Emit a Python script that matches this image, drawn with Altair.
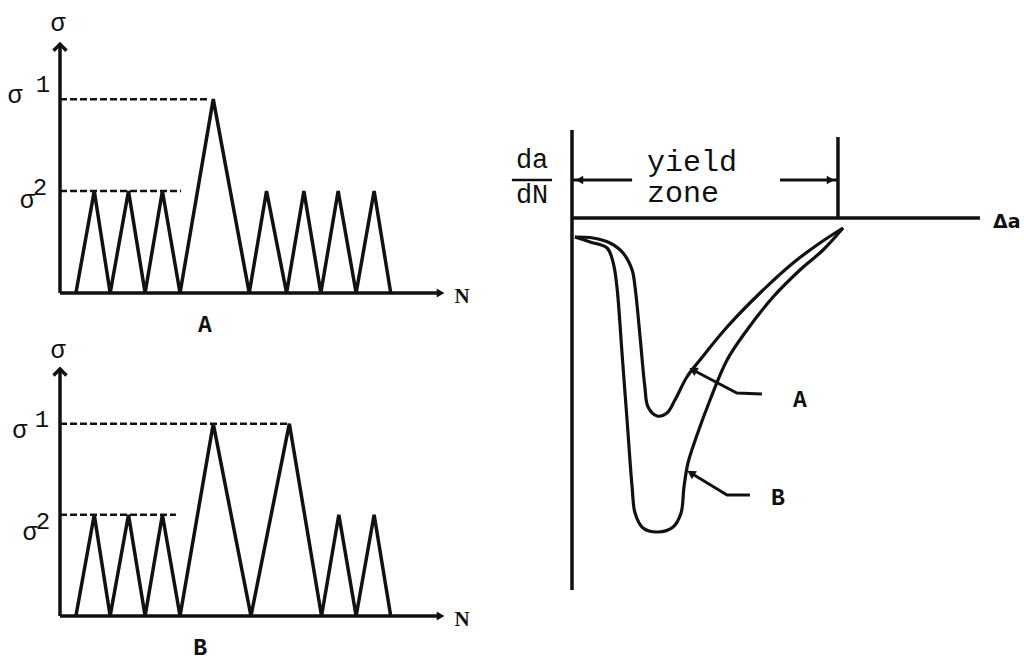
import altair as alt
import pandas as pd

INK = "#111111"
MONO = "Liberation Mono"
SERIF = "Liberation Serif"

# ---------------- load sequences (stress in units of sigma2) ----------------
SIGMA1 = 1.9
SIGMA2 = 1.0

seq_a_n = [0.46, 0.99, 1.45, 1.98, 2.46, 2.96, 3.47, 4.43, 5.47, 5.97, 6.55, 7.05, 7.54, 8.04, 8.56, 9.08, 9.56]
seq_a_s = [0, 1, 0, 1, 0, 1, 0, 1.9, 0, 1, 0, 1, 0, 1, 0, 1, 0]

seq_b_n = [0.46, 0.99, 1.45, 1.98, 2.46, 2.96, 3.47, 4.43, 5.52, 6.63, 7.56, 8.06, 8.56, 9.08, 9.56]
seq_b_s = [0, 1, 0, 1, 0, 1, 0, 1.9, 0, 1.9, 0, 1, 0, 1, 0]

# where the dashed sigma1 / sigma2 guides stop
guide_a_end = [4.25, 3.5]
guide_b_end = [6.63, 3.35]

# ---------------- crack growth rate curves (da/dN relative, vs delta a / yield zone) ----------------
curve_a_x = [0.011, 0.079, 0.143, 0.192, 0.226, 0.237, 0.256, 0.274, 0.286, 0.320, 0.357,
             0.387, 0.432, 0.481, 0.583, 0.707, 0.831, 0.932, 1.019]
curve_a_y = [-0.19, -0.20, -0.25, -0.35, -0.52, -0.69, -1.19, -1.69, -1.89, -1.98, -1.95,
             -1.82, -1.59, -1.42, -1.09, -0.75, -0.45, -0.25, -0.10]

curve_b_x = [0.011, 0.068, 0.132, 0.155, 0.169, 0.188, 0.207, 0.226, 0.237, 0.267, 0.323, 0.380,
             0.410, 0.421, 0.436, 0.470, 0.519, 0.583, 0.658, 0.756, 0.857, 0.944, 1.019]
curve_b_y = [-0.19, -0.24, -0.30, -0.45, -0.69, -1.35, -2.02, -2.69, -2.95, -3.10, -3.14, -3.09,
             -2.95, -2.69, -2.45, -2.17, -1.82, -1.42, -1.12, -0.79, -0.52, -0.32, -0.10]

# leader lines from the curve labels to the curves
leader_a_x = [0.455, 0.620, 0.714]
leader_a_y = [-1.52, -1.75, -1.76]
leader_b_x = [0.447, 0.583, 0.669]
leader_b_y = [-2.55, -2.77, -2.77]

YIELD_ZONE = 1.0


def sc(domain, rng):
    return alt.Scale(domain=domain, range=rng, nice=False, zero=False)


# scales of the three diagrams
X_LOAD = sc([0, 11.1], [60, 444])
Y_LOAD_A = sc([0, 2.46], [293, 42])
Y_LOAD_B = sc([0, 2.46], [616, 367])
X_RATE = sc([0, 1.534], [572, 980])
Y_RATE = sc([-3.72, 0.88], [590, 130])

CHEVRON = "M-1,0.7L0,-0.3L1,0.7"


def enc(xs, ys, xf="x", yf="y"):
    return dict(x=alt.X(f"{xf}:Q", scale=xs, axis=None), y=alt.Y(f"{yf}:Q", scale=ys, axis=None))


def text_layer(df, xs, ys, size, font=MONO, weight="normal", align="center"):
    return alt.Chart(df).mark_text(
        font=font, fontSize=size, fontWeight=weight, color=INK, align=align, baseline="middle"
    ).encode(**enc(xs, ys), text="t:N")


def load_panel(ns, ss, guide_end, ys, lbl):
    seq = pd.DataFrame({"x": ns, "y": ss, "i": range(len(ns))})
    layers = []
    # axes
    layers.append(alt.Chart(pd.DataFrame({"x": [0], "x2": [10.95], "y": [0]}))
                  .mark_rule(color=INK, strokeWidth=3.5)
                  .encode(**enc(X_LOAD, ys), x2="x2:Q"))
    layers.append(alt.Chart(pd.DataFrame({"x": [0], "y": [0], "y2": [2.44]}))
                  .mark_rule(color=INK, strokeWidth=3.5)
                  .encode(**enc(X_LOAD, ys), y2="y2:Q"))
    layers.append(alt.Chart(pd.DataFrame({"x": [11.0], "y": [0]}))
                  .mark_point(shape="triangle-right", filled=True, size=80, color=INK, opacity=1)
                  .encode(**enc(X_LOAD, ys)))
    layers.append(alt.Chart(pd.DataFrame({"x": [0], "y": [2.42]}))
                  .mark_point(shape=CHEVRON, filled=False, size=170, strokeWidth=3.5, color=INK, opacity=1)
                  .encode(**enc(X_LOAD, ys)))
    # dashed stress levels
    layers.append(alt.Chart(pd.DataFrame({"x": [0, 0], "x2": guide_end, "y": [SIGMA1, SIGMA2]}))
                  .mark_rule(color=INK, strokeWidth=2.5, strokeDash=[7, 3])
                  .encode(**enc(X_LOAD, ys), x2="x2:Q"))
    # load sequence
    layers.append(alt.Chart(seq).mark_line(color=INK, strokeWidth=3.5, strokeJoin="miter")
                  .encode(**enc(X_LOAD, ys), order="i:Q"))
    # labels
    layers.append(text_layer(pd.DataFrame(lbl["sigma"]), X_LOAD, ys, 25))
    layers.append(text_layer(pd.DataFrame(lbl["digits"]), X_LOAD, ys, 24))
    layers.append(text_layer(pd.DataFrame(lbl["name"]), X_LOAD, ys, 23, weight="bold"))
    layers.append(text_layer(pd.DataFrame({"x": [11.62], "y": [-0.04], "t": ["N"]}),
                             X_LOAD, ys, 21, font=SERIF, weight="bold"))
    return layers


labels_a = {
    "sigma": {"x": [-0.06, -1.30, -0.95], "y": [2.65, 1.94, 0.91], "t": ["σ", "σ", "σ"]},
    "digits": {"x": [-0.49, -0.58], "y": [2.04, 1.03], "t": ["1", "2"]},
    "name": {"x": [4.19], "y": [-0.31], "t": ["A"]},
}
labels_b = {
    "sigma": {"x": [-0.06, -1.16, -0.87], "y": [2.63, 1.84, 0.83], "t": ["σ", "σ", "σ"]},
    "digits": {"x": [-0.52, -0.49], "y": [1.94, 0.93], "t": ["1", "2"]},
    "name": {"x": [4.05], "y": [-0.32], "t": ["B"]},
}

layers = []
layers += load_panel(seq_a_n, seq_a_s, guide_a_end, Y_LOAD_A, labels_a)
layers += load_panel(seq_b_n, seq_b_s, guide_b_end, Y_LOAD_B, labels_b)

# ---------------- crack growth rate diagram ----------------
layers.append(alt.Chart(pd.DataFrame({"x": [0], "y": [-3.72], "y2": [0.88]}))
              .mark_rule(color=INK, strokeWidth=3.5).encode(**enc(X_RATE, Y_RATE), y2="y2:Q"))
layers.append(alt.Chart(pd.DataFrame({"x": [0], "x2": [1.534], "y": [0]}))
              .mark_rule(color=INK, strokeWidth=3.5).encode(**enc(X_RATE, Y_RATE), x2="x2:Q"))
layers.append(alt.Chart(pd.DataFrame({"x": [YIELD_ZONE], "y": [0], "y2": [0.81]}))
              .mark_rule(color=INK, strokeWidth=3.5).encode(**enc(X_RATE, Y_RATE), y2="y2:Q"))
# yield zone dimension arrows
layers.append(alt.Chart(pd.DataFrame({"x": [0.0, 0.782], "x2": [0.226, YIELD_ZONE], "y": [0.38, 0.38]}))
              .mark_rule(color=INK, strokeWidth=3).encode(**enc(X_RATE, Y_RATE), x2="x2:Q"))
layers.append(alt.Chart(pd.DataFrame({"x": [0.028], "y": [0.38]}))
              .mark_point(shape="triangle-left", filled=True, size=75, color=INK, opacity=1)
              .encode(**enc(X_RATE, Y_RATE)))
layers.append(alt.Chart(pd.DataFrame({"x": [0.972], "y": [0.38]}))
              .mark_point(shape="triangle-right", filled=True, size=75, color=INK, opacity=1)
              .encode(**enc(X_RATE, Y_RATE)))
# da/dN fraction bar
layers.append(alt.Chart(pd.DataFrame({"x": [-0.226], "x2": [-0.075], "y": [0.38]}))
              .mark_rule(color=INK, strokeWidth=2.5).encode(**enc(X_RATE, Y_RATE), x2="x2:Q"))

curves = pd.concat([
    pd.DataFrame({"x": curve_a_x, "y": curve_a_y, "c": "A", "i": range(len(curve_a_x))}),
    pd.DataFrame({"x": curve_b_x, "y": curve_b_y, "c": "B", "i": range(len(curve_b_x))}),
])
layers.append(alt.Chart(curves).mark_line(color=INK, strokeWidth=3.2, interpolate="catmull-rom")
              .encode(**enc(X_RATE, Y_RATE), detail="c:N", order="i:Q"))

leaders = pd.concat([
    pd.DataFrame({"x": leader_a_x, "y": leader_a_y, "c": "A", "i": [0, 1, 2]}),
    pd.DataFrame({"x": leader_b_x, "y": leader_b_y, "c": "B", "i": [0, 1, 2]}),
])
layers.append(alt.Chart(leaders).mark_line(color=INK, strokeWidth=2.8)
              .encode(**enc(X_RATE, Y_RATE), detail="c:N", order="i:Q"))
layers.append(alt.Chart(pd.DataFrame({"x": [leader_a_x[0]], "y": [leader_a_y[0]]}))
              .mark_point(shape="triangle-left", angle=28, filled=True, size=90, color=INK, opacity=1)
              .encode(**enc(X_RATE, Y_RATE)))
layers.append(alt.Chart(pd.DataFrame({"x": [leader_b_x[0]], "y": [leader_b_y[0]]}))
              .mark_point(shape="triangle-left", angle=32, filled=True, size=90, color=INK, opacity=1)
              .encode(**enc(X_RATE, Y_RATE)))

layers.append(text_layer(pd.DataFrame({"x": [0.282, 0.282], "y": [0.56, 0.25], "t": ["yield", "zone"]}),
                         X_RATE, Y_RATE, 30, align="left"))
layers.append(text_layer(pd.DataFrame({"x": [-0.15, -0.15], "y": [0.58, 0.23], "t": ["da", "dN"]}),
                         X_RATE, Y_RATE, 27))
layers.append(text_layer(pd.DataFrame({"x": [0.857, 0.774], "y": [-1.82, -2.80], "t": ["A", "B"]}),
                         X_RATE, Y_RATE, 23, weight="bold"))
layers.append(text_layer(pd.DataFrame({"x": [1.583], "y": [-0.04], "t": ["Δa"]}),
                         X_RATE, Y_RATE, 19, font="DejaVu Sans", weight="bold", align="left"))

chart = (
    alt.layer(*layers)
    .resolve_scale(x="independent", y="independent")
    .properties(width=1024, height=661, autosize="none", padding=0, background="white")
    .configure_view(stroke=None)
)

chart.save("out.html", embed_options={"renderer": "svg", "actions": False})
